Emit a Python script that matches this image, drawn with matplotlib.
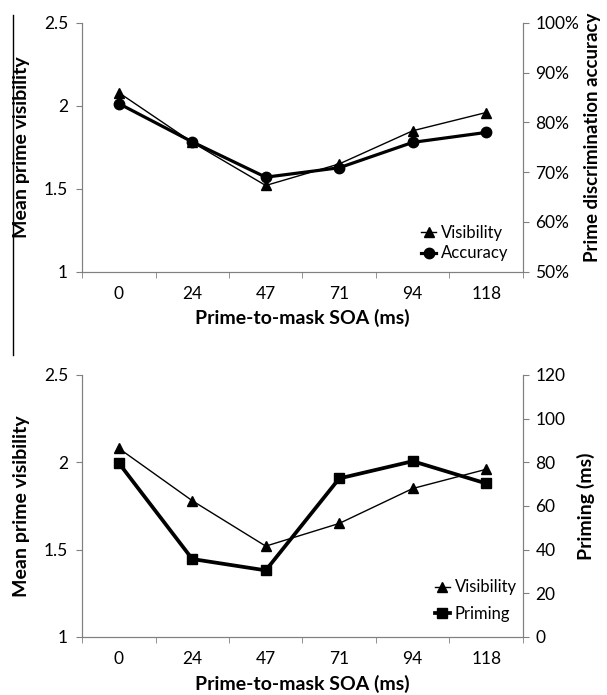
import matplotlib.pyplot as plt
import numpy as np
from matplotlib.lines import Line2D
from matplotlib.ticker import FuncFormatter

plt.rcParams['font.family'] = ['Lato', 'DejaVu Sans']

soa = ["0", "24", "47", "71", "94", "118"]
visibility = [2.08, 1.78, 1.52, 1.65, 1.85, 1.96]
accuracy = [83.8, 76.1, 69.0, 70.9, 76.0, 78.0]   # percent
priming = [79.7, 35.7, 30.5, 72.6, 80.5, 70.3]    # ms

x = np.arange(len(soa))
spine_c = "#808080"
tick_fs = 12.5
lab_fs = 14

fig = plt.figure(figsize=(6.07, 6.95), dpi=100)


def style(ax, ax2, xlab_y):
	ax.set_xlim(-0.5, len(soa) - 0.5)
	ax.set_ylim(1, 2.5)
	ax.set_yticks([1, 1.5, 2, 2.5])
	ax.yaxis.set_major_formatter(FuncFormatter(lambda v, p: "%g" % v))
	ax.set_xticks(x)
	ax.set_xticklabels(soa)
	ax.set_xticks(np.arange(-0.5, len(soa)), minor=True)
	ax.tick_params(axis="x", which="major", length=0, pad=10, labelsize=tick_fs)
	ax.tick_params(axis="x", which="minor", length=4, color=spine_c, direction="out")
	ax.tick_params(axis="y", length=4, color=spine_c, labelsize=tick_fs, pad=6)
	ax2.tick_params(axis="y", length=4, color=spine_c, labelsize=tick_fs, pad=5)
	for a in (ax, ax2):
		a.spines["top"].set_visible(False)
		for s in ("left", "right", "bottom"):
			a.spines[s].set_color(spine_c)
	ax.set_xlabel("Prime-to-mask SOA (ms)", fontsize=lab_fs, fontweight="bold", va="center")
	ax.xaxis.set_label_coords(0.5, xlab_y)
	ax.set_ylabel("Mean prime visibility", fontsize=lab_fs, fontweight="bold", va="center")
	ax.yaxis.set_label_coords(-0.138, 0.5)


def legend(ax, lines, pos, spacing):
	ax.legend(lines, [l.get_label() for l in lines], loc="center left", frameon=False,
		handlelength=0.9, handletextpad=0.3, fontsize=12, borderpad=0,
		borderaxespad=0, labelspacing=spacing, bbox_to_anchor=pos)


# top panel
ax1 = fig.add_axes([0.1351, 0.609, 0.7265, 0.358])
ax1b = ax1.twinx()
ax1.plot(x, visibility, color="black", lw=1.0, marker="^", ms=7.5, label="Visibility")
ax1b.plot(x, accuracy, color="black", lw=2.3, marker="o", ms=7.5, label="Accuracy")
ax1b.set_ylim(50, 100)
ax1b.set_yticks([50, 60, 70, 80, 90, 100])
ax1b.yaxis.set_major_formatter(FuncFormatter(lambda v, p: "%d%%" % v))
ax1b.set_ylabel("Prime discrimination accuracy", fontsize=13.5, fontweight="bold",
	rotation=90, va="center")
ax1b.yaxis.set_label_coords(1.158, 0.542)
style(ax1, ax1b, -0.185)
legend(ax1, [ax1.get_lines()[0], ax1b.get_lines()[0]], (0.769, 0.1145), 0.26)

# bottom panel
ax2 = fig.add_axes([0.1351, 0.0835, 0.7265, 0.377])
ax2b = ax2.twinx()
ax2.plot(x, visibility, color="black", lw=1.0, marker="^", ms=7.5, label="Visibility")
ax2b.plot(x, priming, color="black", lw=2.7, marker="s", ms=7.5, label="Priming")
ax2b.set_ylim(0, 120)
ax2b.set_yticks(np.arange(0, 121, 20))
ax2b.set_ylabel("Priming (ms)", fontsize=lab_fs, fontweight="bold", rotation=90, va="center")
ax2b.yaxis.set_label_coords(1.143, 0.5)
style(ax2, ax2b, -0.18)
legend(ax2, [ax2.get_lines()[0], ax2b.get_lines()[0]], (0.800, 0.139), 0.62)

# stray border line on the left of the scan
fig.add_artist(Line2D([0.021, 0.021], [1 - 15 / 695, 1 - 355 / 695],
	transform=fig.transFigure, color="black", lw=1))

fig.savefig("out.png", dpi=100)
